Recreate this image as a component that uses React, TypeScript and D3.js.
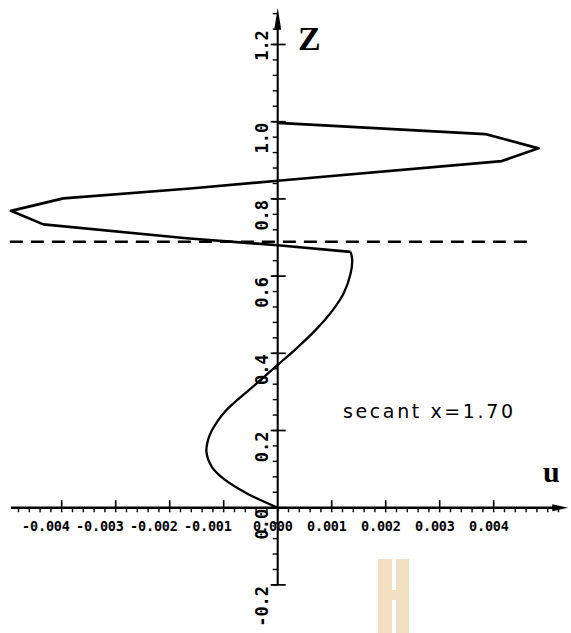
import React from "react";
import * as d3 from "d3";

const W = 571;
const H = 633;

// lower, smooth branch of the profile (u, z)
const lowerU = [0, -0.00057, -0.00101, -0.00122, -0.00132, -0.00128, -0.00122, -0.0011, -0.00097, -0.00082, -0.00042, 0, 0.00035, 0.0007, 0.00102, 0.00122, 0.00135, 0.00138, 0.00135];
const lowerZ = [0, 0.037, 0.076, 0.106, 0.145, 0.18, 0.2, 0.227, 0.25, 0.27, 0.318, 0.37, 0.413, 0.46, 0.512, 0.555, 0.607, 0.642, 0.663];

// upper, zig-zag branch (straight segments)
const upperU = [0.00135, 0, -0.00169, -0.00434, -0.00494, -0.00397, -0.00162, 0, 0.00415, 0.00483, 0.00384, 0];
const upperZ = [0.663, 0.68, 0.698, 0.734, 0.769, 0.8015, 0.827, 0.847, 0.898, 0.931, 0.968, 0.997];

// dashed level line
const dashZ = 0.689;
const dashU = [-0.00496, 0.00464];

const xTicks = [-0.004, -0.003, -0.002, -0.001, 0, 0.001, 0.002, 0.003, 0.004];
const xTickLabels = ["-0.004", "-0.003", "-0.002", "-0.001", "0.000", "0.001", "0.002", "0.003", "0.004"];
const zTicks = [-0.2, 0, 0.2, 0.4, 0.6, 0.8, 1.0, 1.2];
const zTickLabels = ["-0.2", "0.0", "0.2", "0.4", "0.6", "0.8", "1.0", "1.2"];

const note = "secant x=1.70";

export default function App() {
  const x = d3.scaleLinear().domain([-0.005, 0.005]).range([7.7, 547.7]);
  const y = d3.scaleLinear().domain([0, 1]).range([507.7, 121.7]);

  const smooth = d3
    .line<[number, number]>()
    .x((d) => x(d[0]))
    .y((d) => y(d[1]))
    .curve(d3.curveCatmullRom.alpha(0.5));
  const straight = d3
    .line<[number, number]>()
    .x((d) => x(d[0]))
    .y((d) => y(d[1]));

  const lowerPts = lowerU.map((u, i) => [u, lowerZ[i]] as [number, number]);
  const upperPts = upperU.map((u, i) => [u, upperZ[i]] as [number, number]);

  const x0 = x(0);
  const y0 = y(0);
  const xLeft = x(-0.00494);
  const xRight = x(0.00538);
  const yBottom = y(-0.2);
  const yTop = y(1.295);

  const minorX = d3.range(-24, 27).map((i) => i * 0.0002);
  const minorZ = d3.range(-5, 33).map((i) => i * 0.04);

  const mono = "'DejaVu Sans Mono', monospace";
  const topTick = zTicks[zTicks.length - 1];

  return (
    <svg
      width={W}
      height={H}
      style={{ position: "absolute", left: 0, top: 0, background: "#fff" }}
    >
      {/* faint scan watermark */}
      <g fill="#f3dfc2">
        <rect x={378} y={559} width={14} height={74} />
        <rect x={396} y={559} width={13} height={74} />
        <rect x={392} y={590} width={4} height={10} />
      </g>

      {/* x axis */}
      <line x1={xLeft} x2={xRight - 10} y1={y0} y2={y0} stroke="#000" strokeWidth={2.5} />
      <polygon
        points={`${xRight},${y0} ${xRight - 16},${y0 - 3.5} ${xRight - 16},${y0 + 3.5}`}
        fill="#000"
      />
      {minorX.map((t, i) => (
        <line key={"mx" + i} x1={x(t)} x2={x(t)} y1={y0} y2={y0 + 4.5} stroke="#000" strokeWidth={1.4} />
      ))}
      {xTicks.filter((t) => t !== 0).map((t, i) => (
        <line key={"Mx" + i} x1={x(t)} x2={x(t)} y1={y0} y2={y0 - 7.5} stroke="#000" strokeWidth={1.6} />
      ))}
      {xTicks.map((t, i) => (
        <text
          key={"lx" + i}
          x={x(t) + (t < 0 ? 8 : 15)}
          y={531}
          textAnchor="end"
          fontFamily={mono}
          fontWeight="bold"
          fontSize={13.5}
          letterSpacing={-0.2}
          fill="#000"
        >
          {xTickLabels[i]}
        </text>
      ))}

      {/* z axis */}
      <line x1={x0} x2={x0} y1={yBottom} y2={yTop + 12} stroke="#000" strokeWidth={2.1} />
      <polygon
        points={`${x0},${yTop} ${x0 - 3.5},${yTop + 22} ${x0 + 3.5},${yTop + 22}`}
        fill="#000"
      />
      {minorZ.map((t, i) => (
        <line key={"mz" + i} x1={x0 - 5} x2={x0} y1={y(t)} y2={y(t)} stroke="#000" strokeWidth={1.4} />
      ))}
      {zTicks.map((t, i) => (
        <line key={"Mz" + i} x1={x0 - 7} x2={x0 + 8} y1={y(t)} y2={y(t)} stroke="#000" strokeWidth={1.7} />
      ))}
      {zTicks.map((t, i) => (
        <text
          key={"lz" + i}
          transform={`translate(268,${y(t) + 1}) rotate(-90)`}
          textAnchor={t === topTick ? "middle" : "end"}
          fontFamily={mono}
          fontWeight="bold"
          fontSize={17}
          fill="#000"
        >
          {zTickLabels[i]}
        </text>
      ))}

      {/* dashed line */}
      <line
        x1={x(dashU[0])}
        x2={x(dashU[1])}
        y1={y(dashZ)}
        y2={y(dashZ)}
        stroke="#000"
        strokeWidth={2.3}
        strokeDasharray="13 8"
      />

      {/* profile */}
      <path d={smooth(lowerPts) || ""} fill="none" stroke="#000" strokeWidth={2.3} />
      <path
        d={straight(upperPts) || ""}
        fill="none"
        stroke="#000"
        strokeWidth={2.7}
        strokeLinejoin="round"
      />

      {/* axis names */}
      <text x={298} y={50} fontFamily="'Liberation Serif', serif" fontWeight="bold" fontSize={34} fill="#000">
        Z
      </text>
      <text x={543} y={482} fontFamily="'Liberation Serif', serif" fontWeight="bold" fontSize={30} fill="#000">
        u
      </text>

      <text
        x={343}
        y={418}
        fontFamily="'DejaVu Sans', sans-serif"
        fontSize={19}
        textLength={170}
        lengthAdjust="spacing"
        fill="#000"
      >
        {note}
      </text>
    </svg>
  );
}
